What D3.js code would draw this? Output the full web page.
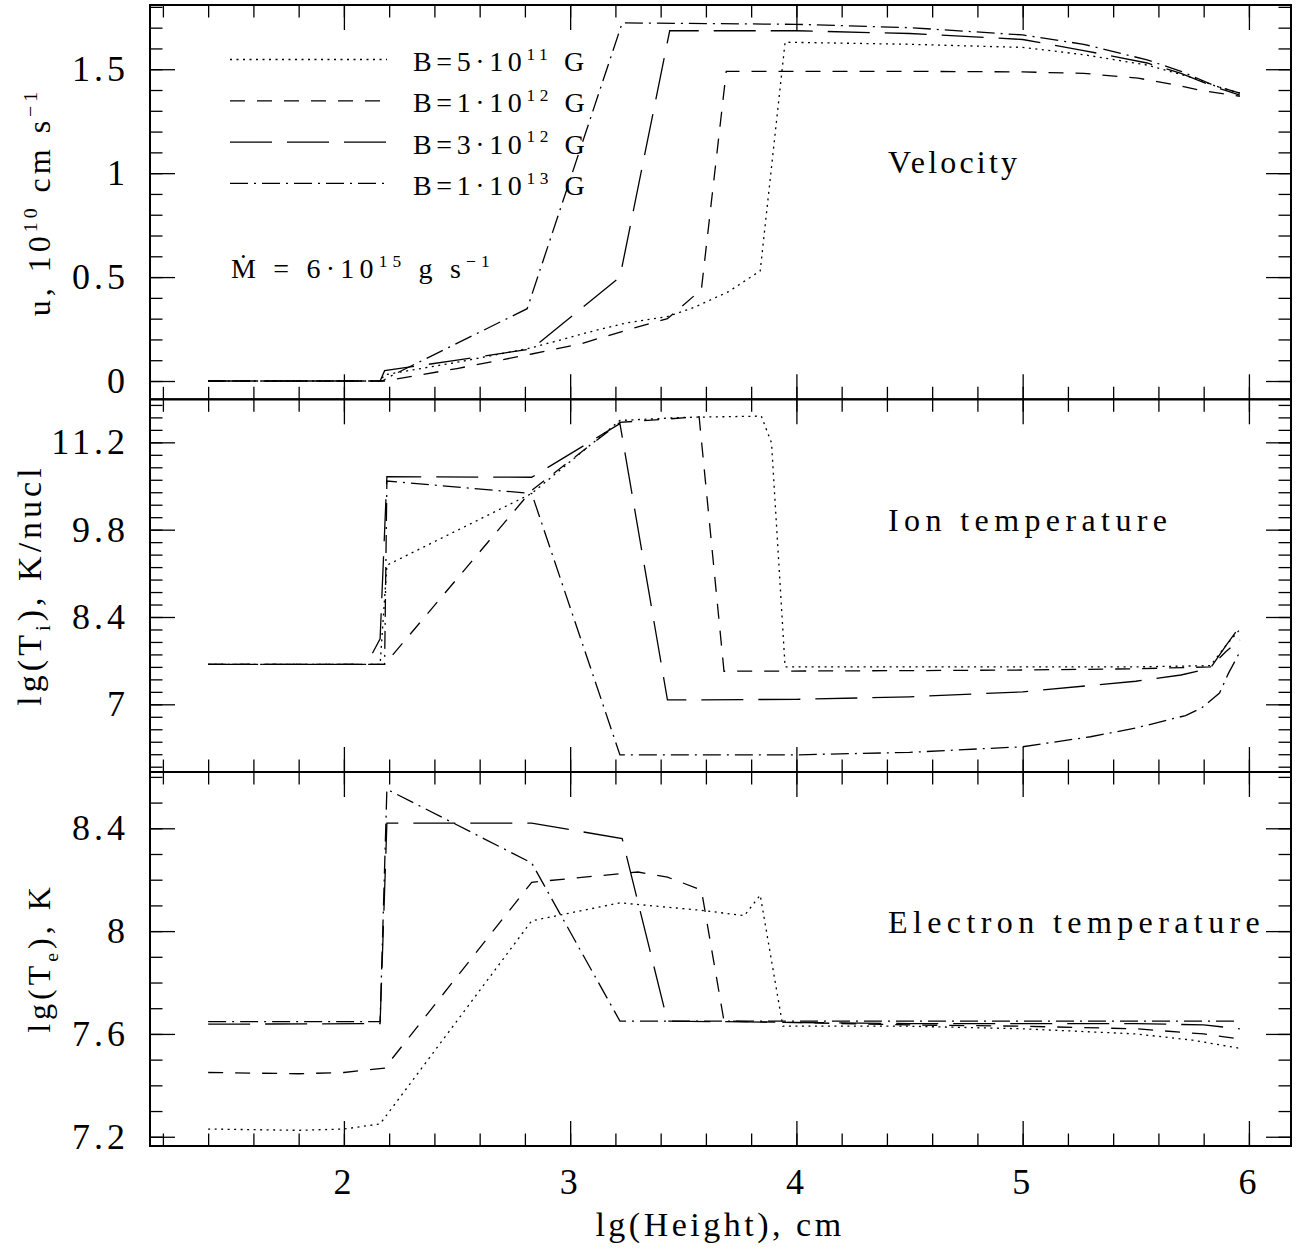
<!DOCTYPE html>
<meta charset="utf-8">
<script src="https://d3js.org/d3.v7.min.js"></script>
<style>
  body { margin: 0; background: #fff; }
  svg text { font-family: "Liberation Serif", "Times New Roman", serif; fill: #000; white-space: pre; }
</style>
<div id="my_dataviz"></div>
<script>

// ---- data: [lg(Height), value] ----
const legendLabels = ["5·10|11", "1·10|12", "3·10|12", "1·10|13"];
const heightTicks = [2, 3, 4, 5, 6];
const velTicks = [0, 0.5, 1, 1.5];
const ionTicks = [7, 8.4, 9.8, 11.2];
const eleTicks = [7.2, 7.6, 8, 8.4];

// velocity, 10^10 cm/s
const velB5e11 = [[1.40,0],[2.16,0],[2.18,0.03],[2.50,0.09],[2.83,0.16],[3.10,0.24],[3.25,0.28],[3.43,0.31],[3.55,0.355],[3.70,0.43],[3.84,0.53],[3.95,1.63],[4.50,1.62],[5.00,1.605],[5.27,1.57],[5.55,1.52],[5.75,1.46],[5.85,1.42],[5.96,1.385]];
const velB1e12 = [[1.40,0],[2.18,0],[2.50,0.06],[2.83,0.13],[3.05,0.18],[3.25,0.245],[3.43,0.30],[3.58,0.44],[3.69,1.49],[4.50,1.49],[5.00,1.487],[5.27,1.48],[5.51,1.457],[5.65,1.43],[5.78,1.40],[5.96,1.37]];
const velB3e12 = [[1.40,0],[2.16,0],[2.18,0.05],[2.50,0.10],[2.83,0.155],[3.22,0.50],[3.44,1.685],[4.00,1.685],[4.50,1.672],[5.00,1.643],[5.27,1.59],[5.55,1.53],[5.70,1.48],[5.85,1.415],[5.96,1.375]];
const velB1e13 = [[1.40,0],[2.17,0],[2.20,0.02],[2.81,0.348],[3.23,1.723],[4.00,1.716],[4.50,1.70],[5.00,1.665],[5.27,1.62],[5.55,1.545],[5.70,1.49],[5.85,1.42],[5.96,1.385]];

// ion temperature, lg K/nucl
const ionB5e11 = [[1.40,7.64],[2.16,7.64],[2.19,9.23],[2.83,10.38],[3.22,11.55],[3.50,11.60],[3.845,11.62],[3.89,11.19],[3.95,7.60],[4.50,7.60],[5.00,7.60],[5.50,7.60],[5.83,7.62],[5.90,7.95],[5.96,8.20]];
const ionB1e12 = [[1.40,7.64],[2.18,7.64],[2.83,10.43],[3.22,11.52],[3.57,11.61],[3.68,7.53],[4.50,7.54],[5.00,7.55],[5.50,7.57],[5.83,7.60],[5.90,7.85],[5.96,8.03]];
const ionB3e12 = [[1.40,7.64],[2.10,7.64],[2.16,8.05],[2.19,10.65],[2.83,10.64],[3.22,11.50],[3.43,7.07],[4.00,7.08],[4.50,7.12],[5.00,7.20],[5.50,7.37],[5.70,7.47],[5.83,7.58],[5.90,7.95],[5.96,8.25]];
const ionB1e13 = [[1.40,7.64],[2.18,7.64],[2.19,10.58],[2.83,10.38],[3.22,6.19],[4.00,6.19],[4.50,6.23],[5.00,6.32],[5.30,6.48],[5.50,6.62],[5.72,6.82],[5.79,6.94],[5.87,7.18],[5.91,7.50],[5.96,7.84]];

// electron temperature, lg K
const eleB5e11 = [[1.40,7.23],[1.80,7.225],[2.00,7.23],[2.16,7.25],[2.83,8.04],[3.22,8.11],[3.59,8.08],[3.77,8.06],[3.84,8.14],[3.94,7.63],[4.50,7.63],[5.00,7.62],[5.50,7.60],[5.75,7.576],[5.96,7.544]];
const eleB1e12 = [[1.40,7.45],[1.80,7.445],[2.00,7.45],[2.18,7.467],[2.83,8.19],[3.30,8.23],[3.43,8.21],[3.58,8.16],[3.68,7.65],[4.50,7.635],[5.00,7.63],[5.50,7.62],[5.80,7.60],[5.96,7.58]];
const eleB3e12 = [[1.40,7.638],[2.16,7.64],[2.19,8.42],[2.83,8.42],[3.23,8.36],[3.43,7.65],[4.50,7.64],[5.00,7.64],[5.50,7.64],[5.80,7.635],[5.96,7.62]];
const eleB1e13 = [[1.40,7.648],[2.16,7.648],[2.19,8.552],[2.83,8.265],[3.22,7.65],[5.96,7.65]];

// line types: dotted, short dash, long dash, dot-dash
const dashes = ["2,4.5", "15,12", "42,15", "18,6,2,6"];

// ---- layout ----
const W = 1297, H = 1249;
const left = 150, right = 1291;

const svg = d3.select("#my_dataviz")
  .append("svg")
    .attr("width", W)
    .attr("height", H)
    .style("background", "#fff");

const x = d3.scaleLinear().domain([1.143, 6.186]).range([left, right]);

const panels = [
  { top: 5,     bottom: 399.3, domain: [-0.088, 1.809], ticks: velTicks, minor: 0.1,
    series: [velB5e11, velB1e12, velB3e12, velB1e13], title: "Velocity", titleY: 173, titleLs: 3.2 },
  { top: 399.3, bottom: 772,   domain: [5.915, 11.89],  ticks: ionTicks, minor: 0.2,
    series: [ionB5e11, ionB1e12, ionB3e12, ionB1e13], title: "Ion temperature", titleY: 531, titleLs: 5.4 },
  { top: 772,   bottom: 1146,  domain: [7.164, 8.619],  ticks: eleTicks, minor: 0.1,
    series: [eleB5e11, eleB1e12, eleB3e12, eleB1e13], title: "Electron temperature", titleY: 933, titleLs: 5.4 }
];

// text with super/subscripts: parts = [[string, "n"|"sup"|"sub"], ...]
function rich(sel, parts, fs) {
  let off = 0;
  parts.forEach(([s, t]) => {
    const target = t === "sup" ? -0.4 * fs : t === "sub" ? 0.25 * fs : 0;
    sel.append("tspan")
      .attr("dy", target - off)
      .attr("font-size", t === "n" ? fs : fs * 0.62)
      .text(s);
    off = target;
  });
}

function clean(g) {
  g.select(".domain").remove();
  g.selectAll(".tick line").attr("stroke", "#000").attr("stroke-width", 1.3);
  g.selectAll(".tick text")
    .attr("font-family", "Liberation Serif, Times New Roman, serif")
    .attr("font-size", 36)
    .attr("letter-spacing", 4)
    .attr("fill", "#000");
}

const xMinor = d3.range(6, 31).map(i => i / 5);

panels.forEach((p, pi) => {
  const y = d3.scaleLinear().domain(p.domain).range([p.bottom, p.top]);
  const g = svg.append("g");
  const yMinor = d3.range(Math.ceil(p.domain[0] / p.minor), Math.floor(p.domain[1] / p.minor) + 1)
    .map(i => +(i * p.minor).toFixed(2));

  // y ticks, left (labelled) and right
  g.append("g").attr("transform", `translate(${left},0)`)
    .call(d3.axisLeft(y).tickValues(p.ticks).tickSize(-25).tickPadding(21).tickFormat(d => String(d)))
    .call(clean);
  g.append("g").attr("transform", `translate(${left},0)`)
    .call(d3.axisLeft(y).tickValues(yMinor).tickSize(-12.5).tickFormat(""))
    .call(clean);
  g.append("g").attr("transform", `translate(${right},0)`)
    .call(d3.axisRight(y).tickValues(p.ticks).tickSize(-25).tickFormat(""))
    .call(clean);
  g.append("g").attr("transform", `translate(${right},0)`)
    .call(d3.axisRight(y).tickValues(yMinor).tickSize(-12.5).tickFormat(""))
    .call(clean);

  // x ticks on top and bottom of every panel
  g.append("g").attr("transform", `translate(0,${p.top})`)
    .call(d3.axisBottom(x).tickValues(heightTicks).tickSize(25).tickFormat(""))
    .call(clean);
  g.append("g").attr("transform", `translate(0,${p.top})`)
    .call(d3.axisBottom(x).tickValues(xMinor).tickSize(12.5).tickFormat(""))
    .call(clean);
  g.append("g").attr("transform", `translate(0,${p.bottom})`)
    .call(d3.axisBottom(x).tickValues(heightTicks).tickSize(-25).tickPadding(22)
      .tickFormat(pi === 2 ? (d => String(d)) : ""))
    .call(clean);
  g.append("g").attr("transform", `translate(0,${p.bottom})`)
    .call(d3.axisTop(x).tickValues(xMinor).tickSize(12.5).tickFormat(""))
    .call(clean);

  // frame
  g.append("rect")
    .attr("x", left).attr("y", p.top)
    .attr("width", right - left).attr("height", p.bottom - p.top)
    .attr("fill", "none").attr("stroke", "#000").attr("stroke-width", 2);

  // curves
  const line = d3.line().x(d => x(d[0])).y(d => y(d[1]));
  g.selectAll("path.curve")
    .data(p.series)
    .join("path")
      .attr("class", "curve")
      .attr("d", line)
      .attr("fill", "none")
      .attr("stroke", "#000")
      .attr("stroke-width", 1.3)
      .attr("stroke-dasharray", (d, i) => dashes[i]);

  // panel title
  g.append("text")
    .attr("x", 888).attr("y", p.titleY)
    .attr("font-size", 32)
    .attr("letter-spacing", p.titleLs)
    .text(p.title);
});

// legend in the velocity panel
const legend = svg.append("g").attr("transform", "translate(230,59.5)");
legendLabels.forEach((lab, i) => {
  const row = legend.append("g").attr("transform", `translate(0,${i * 41.3})`);
  row.append("line")
    .attr("x1", 0).attr("x2", 157)
    .attr("stroke", "#000").attr("stroke-width", 1.3)
    .attr("stroke-dasharray", dashes[i]);
  const [base, exp] = lab.split("|");
  const t = row.append("text").attr("x", 183).attr("y", 11.5)
    .attr("letter-spacing", 4.6);
  rich(t, [["B=" + base, "n"], [exp, "sup"], [" G", "n"]], 28);
});

// accretion rate
const mdot = svg.append("text").attr("x", 231).attr("y", 278).attr("letter-spacing", 5.2);
rich(mdot, [["\u1E40 = 6·10", "n"], ["15", "sup"], [" g s", "n"], ["\u22121", "sup"]], 28);

// axis titles
const yTitles = [
  { cx: 50, cy: 202, fs: 32, parts: [["u, 10", "n"], ["10", "sup"], [" cm s", "n"], ["\u22121", "sup"]] },
  { cx: 41, cy: 585, fs: 34, parts: [["lg(T", "n"], ["i", "sub"], ["), K/nucl", "n"]] },
  { cx: 50, cy: 958, fs: 32, parts: [["lg(T", "n"], ["e", "sub"], ["), K", "n"]] }
];
yTitles.forEach(d => {
  const t = svg.append("text")
    .attr("transform", `translate(${d.cx},${d.cy}) rotate(-90)`)
    .attr("text-anchor", "middle")
    .attr("letter-spacing", 4);
  rich(t, d.parts, d.fs);
});

svg.append("text")
  .attr("x", 720).attr("y", 1236)
  .attr("text-anchor", "middle")
  .attr("font-size", 34)
  .attr("letter-spacing", 3.5)
  .text("lg(Height), cm");

</script>
